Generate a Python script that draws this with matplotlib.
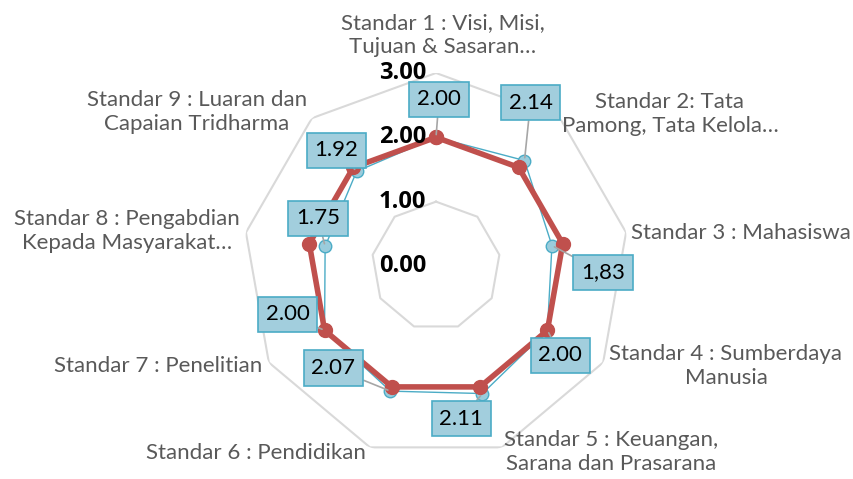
import numpy as np
from matplotlib import pyplot as plt

plt.rcParams['font.family'] = ['Lato', 'DejaVu Sans']

categories = [
    'Standar 1 : Visi, Misi,\nTujuan & Sasaran…',
    'Standar 2: Tata\nPamong, Tata Kelola…',
    'Standar 3 : Mahasiswa',
    'Standar 4 : Sumberdaya\nManusia',
    'Standar 5 : Keuangan,\nSarana dan Prasarana',
    'Standar 6 : Pendidikan',
    'Standar 7 : Penelitian',
    'Standar 8 : Pengabdian\nKepada Masyarakat…',
    'Standar 9 : Luaran dan\nCapaian Tridharma',
]
actual = [2.00, 2.14, 1.83, 2.00, 2.11, 2.07, 2.00, 1.75, 1.92]
actual_labels = ['2.00', '2.14', '1,83', '2.00', '2.11', '2.07', '2.00', '1.75', '1.92']
target = [2.0, 2.0, 2.0, 2.0, 2.0, 2.0, 2.0, 2.0, 2.0]
ticks = [0, 1, 2, 3]
tick_labels = ['0.00', '1.00', '2.00', '3.00']

# label placement (pixels, offset from the point) and category label centers
label_offsets = [(3, 38), (6, 58), (51, -27), (13, -25), (-21, -25),
                 (-57, 23), (-37, 16), (-7, 28), (-20, 21)]
cat_pos = [(443, 35), (670, 114), (741, 233), (726, 366), (611, 452),
           (256, 453), (158, 366), (127, 231), (197, 112)]

W, H = 854, 479
fig = plt.figure(figsize=(W / 100, H / 100), dpi=100)
cx, cy, R = 436, 266, 193
ax = fig.add_axes([(cx - R) / W, (H - cy - R) / H, 2 * R / W, 2 * R / H],
                  projection='polar')
ax.set_theta_offset(np.pi / 2)
ax.set_theta_direction(-1)
ax.set_ylim(0, 3)
ax.axis('off')

n = len(categories)
theta = np.arange(n) * 2 * np.pi / n
th_closed = np.append(theta, theta[0])

# polygon grid
for t in ticks[1:]:
    ax.plot(th_closed, [t] * (n + 1), color='#D9D9D9', lw=1.5, zorder=1)

act_closed = np.append(actual, actual[0])
tgt_closed = np.append(target, target[0])
ax.plot(th_closed, act_closed, color='#4BACC6', lw=1, marker='o', ms=9,
        mfc='#9ACCDC', mec='#4BACC6', mew=1, zorder=3)
ax.plot(th_closed, tgt_closed, color='#C0504D', lw=4, marker='o', ms=10,
        mfc='#C0504D', mec='#C0504D', zorder=4)

for i in range(n):
    ax.annotate(actual_labels[i], xy=(theta[i], actual[i]),
                xytext=label_offsets[i], textcoords='offset pixels',
                ha='center', va='center', fontsize=16, color='black',
                bbox=dict(boxstyle='square,pad=0.35', fc='#A2CEDD', ec='#4BACC6', lw=1.2),
                arrowprops=dict(arrowstyle='-', color='#A6A6A6', lw=1.2,
                                shrinkA=0, shrinkB=2),
                zorder=6, annotation_clip=False)

for t, lab in zip(ticks, tick_labels):
    ax.annotate(lab, xy=(0, t), xytext=(-10, 0), textcoords='offset pixels',
                ha='right', va='center', fontsize=17, fontweight='bold',
                family=['Open Sans', 'DejaVu Sans'],
                color='black', zorder=7, annotation_clip=False)

for lab, (x, y) in zip(categories, cat_pos):
    fig.text(x / W, 1 - y / H, lab, ha='center', va='center', fontsize=16,
             color='#595959', linespacing=1.25)

fig.savefig('out.png', dpi=100)
